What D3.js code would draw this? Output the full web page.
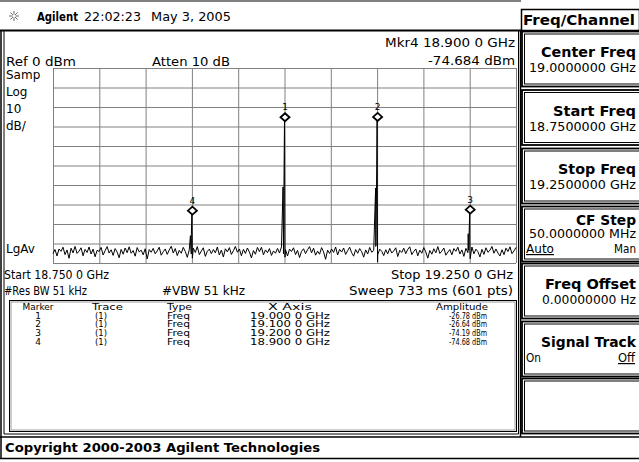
<!DOCTYPE html>
<html><head><meta charset="utf-8">
<script src="https://cdn.jsdelivr.net/npm/d3@7"></script>
<style>
body{margin:0;background:#fff}
svg{display:block;background:#fff}
text{font-family:"DejaVu Sans",sans-serif;fill:#000}
</style>
</head><body>
<svg id="c" width="639" height="462"></svg>
<script>
// ---------------- data ----------------
const startFreq = 18.75, stopFreq = 19.25;   // GHz
const refLevel = 0, bottomLevel = -100;     // dBm, 10 dB/div
const xGridTicks = [18.75,18.80,18.85,18.90,18.95,19.00,19.05,19.10,19.15,19.20,19.25];
const yGridTicks = [0,-10,-20,-30,-40,-50,-60,-70,-80,-90,-100];

// noise floor trace (evenly spaced across the sweep)
const noiseDbm = [
-95.2,-93.1,-96.4,-92.8,-94.0,-91.9,-95.7,-93.3,-97.6,-92.4,-94.8,-91.5,-95.1,-93.9,-92.2,-96.3,-93.0,-94.6,-91.8,-95.4,-92.9,-96.8,-93.5,-94.1,-92.0,-95.9,-93.7,-91.6,-94.9,
-93.2,-96.1,-92.6,-94.4,-97.3,-93.0,-95.5,-92.3,-94.7,-91.7,-95.0,-93.6,-96.5,-92.1,-94.3,-93.4,-95.8,-92.7,-97.9,-93.1,-94.5,-92.5,-95.3,-93.8,-91.9,-96.0,-94.2,-92.8,-95.6,
-93.3,-91.4,-94.9,-92.6,-96.2,-93.5,-95.0,-92.0,-94.1,-97.1,-93.2,-95.4,-92.4,-94.6,-91.6,-95.7,-93.9,-92.2,-96.6,-94.0,-92.9,-95.2,-93.1,-94.8,-91.8,-95.9,-93.4,-96.9,-92.7,
-94.3,-92.1,-95.6,-93.7,-91.5,-94.5,-92.8,-96.3,-93.0,-95.1,-92.3,-94.4,-97.4,-93.6,-95.5,-92.0,-94.2,-91.9,-95.8,-93.3,-94.7,-92.6,-96.1,-93.8,-95.0,-92.5,-94.9,-91.7,-95.3,
-93.1,-96.4,-92.9,-94.1,-92.2,-95.7,-93.5,-97.2,-94.0,-92.7,-95.2,-93.2,-91.6,-94.8,-92.4,-96.0,-93.9,-95.5,-92.1,-94.3,-98.1,-93.4,-95.1,-92.8,-94.6,-91.8,-95.9,-93.0,-94.4,
-92.3,-95.6,-93.7,-91.9,-94.7,-96.5,-93.1,-95.0,-92.6,-94.2,-97.0,-93.3,-95.4,-92.0,-94.5,-93.6,-91.5,-95.8,-92.9,-94.0,-96.2,-93.2,-95.3,-92.5,-94.9,-93.8,-92.2,-96.7,-93.5,
-94.6,-92.4,-95.2,-93.0,-91.7,-95.7,-94.1,-92.8,-96.3,-93.4,-95.0,-92.1,-94.3,-97.5,-93.6,-95.5,-92.7,-94.8,-91.6,-95.1,-93.9,-92.3,-96.0,-94.4,-93.1,-95.8,-92.6,-94.0,-91.9,
-95.4,-93.3,-96.6,-92.5,-94.7,-93.7,-91.8,-95.3,-92.9,-94.2,-96.9,-93.0,-95.6,-92.2,-94.5,-93.5,-91.5,-95.0,-92.8,-94.9,-96.4,-93.2,-95.7,-92.4,-94.1,-91.7,-95.2,-93.8,-92.0
];

// carrier spikes in the sampled trace (shoulder samples, peak sample, dip sample)
const spikeFreqs = [
  18.89840,18.89890,18.89940,18.90000,18.90050,
  18.99840,18.99890,18.99940,19.00000,19.00050,
  19.09840,19.09890,19.09940,19.10000,19.10050,
  19.19840,19.19890,19.19940,19.20000,19.20050
];
const spikeDbm = [
  -86.0,-93.0,-85.5,-74.68,-97.5,
  -61.0,-90.0,-60.2,-26.78,-97.0,
  -61.5,-91.0,-60.5,-26.64,-99.5,
  -85.0,-93.5,-84.3,-74.19,-97.8
];

// markers
const markerIds   = [1,2,3,4];
const markerTrace = ["(1)","(1)","(1)","(1)"];
const markerType  = ["Freq","Freq","Freq","Freq"];
const markerFreqs = [19.000,19.100,19.200,18.900];
const markerAmps  = [-26.78,-26.64,-74.19,-74.68];
const markerFreqLabels = ["19.000 0 GHz","19.100 0 GHz","19.200 0 GHz","18.900 0 GHz"];
const markerAmpLabels  = ["-26.78 dBm","-26.64 dBm","-74.19 dBm","-74.68 dBm"];

// soft keys
const softTitles = ["Center Freq","Start Freq","Stop Freq","CF Step","Freq Offset","Signal Track",""];
const softValues = ["19.0000000 GHz","18.7500000 GHz","19.2500000 GHz","50.0000000 MHz","0.00000000  Hz","",""];

// ---------------- drawing ----------------
const svg = d3.select("#c");

function txt(x, y, s, size, o = {}) {
  const t = svg.append("text").attr("x", x).attr("y", y).text(s)
    .attr("font-size", size)
    .attr("text-anchor", o.anchor || "start");
  if (o.bold) t.attr("font-weight", "bold");
  if (o.len) t.attr("textLength", o.len).attr("lengthAdjust", "spacingAndGlyphs");
  if (o.underline) t.attr("text-decoration", "underline");
  return t;
}
function line(x1, y1, x2, y2, w = 1, c = "#000") {
  svg.append("line").attr("x1", x1).attr("y1", y1).attr("x2", x2).attr("y2", y2)
    .attr("stroke", c).attr("stroke-width", w);
}
function rect(x, y, w, h, sw = 1, c = "#000") {
  svg.append("rect").attr("x", x).attr("y", y).attr("width", w).attr("height", h)
    .attr("fill", "none").attr("stroke", c).attr("stroke-width", sw);
}

// ---- header line ----
line(0, 1, 521, 1, 1);
const icon = svg.append("g").attr("transform", "translate(14,16)");
for (let a = 0; a < 8; a++) {
  const ang = a * Math.PI / 4;
  icon.append("line").attr("x1", Math.cos(ang) * 1.5).attr("y1", Math.sin(ang) * 1.5)
    .attr("x2", Math.cos(ang) * 5).attr("y2", Math.sin(ang) * 5)
    .attr("stroke", "#666").attr("stroke-width", 1);
}
txt(37, 21, "Agilent", 12.5, {bold: true, len: 41});
txt(84, 21, "22:02:23", 13, {len: 57});
txt(151, 21, "May 3, 2005", 13, {len: 80});

// ---- Freq/Channel header box ----
rect(521.5, 9.5, 118, 21, 1.5);
txt(523, 25, "Freq/Channel", 14.5, {bold: true, len: 112});

// ---- main display frame ----
line(0, 30.5, 521, 30.5, 2);
line(1, 30, 1, 437, 1.5);
line(4, 30, 4, 434, 1);
line(518.5, 30, 518.5, 434, 1);
line(520.5, 30, 520.5, 437, 1.5);
line(4, 434, 518.5, 434, 1);

// ---- plot ----
const x = d3.scaleLinear().domain([startFreq, stopFreq]).range([53, 516]);
const y = d3.scaleLinear().domain([refLevel, bottomLevel]).range([68, 263]);

const gx = svg.append("g").attr("transform", `translate(0,${y(bottomLevel)})`)
  .call(d3.axisBottom(x).tickValues(xGridTicks).tickSize(-(y(bottomLevel) - y(refLevel))).tickFormat(""));
const gy = svg.append("g").attr("transform", `translate(${x(startFreq)},0)`)
  .call(d3.axisLeft(y).tickValues(yGridTicks).tickSize(-(x(stopFreq) - x(startFreq))).tickFormat(""));
[gx, gy].forEach(g => {
  g.select(".domain").remove();
  g.selectAll(".tick line").attr("stroke", "#808080").attr("stroke-width", 1);
});

// trace
const tracePts = noiseDbm.map((v, i) => ({f: startFreq + i * (stopFreq - startFreq) / (noiseDbm.length - 1), v}))
  .concat(spikeFreqs.map((f, i) => ({f, v: spikeDbm[i]})))
  .sort((a, b) => a.f - b.f);
svg.append("path").datum(tracePts)
  .attr("d", d3.line().x(d => x(d.f)).y(d => Math.min(y(d.v), y(bottomLevel) + 0.5)))
  .attr("fill", "none").attr("stroke", "#000").attr("stroke-width", 1);

// markers
const mk = svg.append("g").selectAll("g").data(markerIds).join("g")
  .attr("transform", (d, i) => `translate(${x(markerFreqs[i]) + 0.5},${y(markerAmps[i]) - 3})`);
mk.append("path").attr("d", "M0,-4L4.5,0L0,4L-4.5,0Z")
  .attr("fill", "#fff").attr("stroke", "#000").attr("stroke-width", 1.8);
mk.append("text").attr("y", -7).attr("text-anchor", "middle").attr("font-size", 9).text(d => d);

// ---- annotation texts ----
txt(6, 66, "Ref 0 dBm", 13, {len: 70});
txt(152, 66, "Atten 10 dB", 13, {len: 78});
txt(515, 47, "Mkr4  18.900 0 GHz", 13, {anchor: "end", len: 130});
txt(515, 65, "-74.684 dBm", 13, {anchor: "end", len: 87});
txt(6, 79, "Samp", 12);
txt(6, 96, "Log", 12);
txt(6, 113, "10", 12);
txt(6, 130, "dB/", 12);
txt(6, 253, "LgAv", 12);
txt(4, 279, "Start 18.750 0 GHz", 12, {len: 105});
txt(513, 279, "Stop 19.250 0 GHz", 12, {anchor: "end", len: 122});
txt(4, 295, "#Res BW 51 kHz", 12, {len: 83});
txt(162, 295, "#VBW 51 kHz", 12, {len: 83});
txt(513, 295, "Sweep 733 ms (601 pts)", 12, {anchor: "end", len: 164});

// ---- marker table ----
rect(9.5, 300.5, 507, 131, 1, "#000");
rect(11, 302, 504, 128, 1, "#9a9a9a");
const hdrY = 309.5;
txt(38, hdrY, "Marker", 9, {anchor: "middle", len: 31});
txt(92, hdrY, "Trace", 9, {len: 31});
txt(167, hdrY, "Type", 9, {len: 25});
txt(290, hdrY, "X Axis", 9, {anchor: "middle", len: 44});
txt(488, hdrY, "Amplitude", 9, {anchor: "end", len: 52});
const rowY = [318.5, 327.3, 336.1, 344.9];
markerIds.forEach((m, i) => {
  txt(38, rowY[i], String(m), 9, {anchor: "middle"});
  txt(95, rowY[i], markerTrace[i], 9, {len: 12});
  txt(167, rowY[i], markerType[i], 9, {len: 23});
  txt(250, rowY[i], markerFreqLabels[i], 9, {len: 80});
  txt(487, rowY[i], markerAmpLabels[i], 9, {anchor: "end", len: 38});
});

// ---- soft keys ----
const softTops = [31.5, 90, 148.5, 206.5, 263.5, 321.5, 378.5];
softTops.forEach((t, i) => {
  rect(522, t, 118, 55, 1.8);
  rect(524.5, t + 2.5, 116, 50, 1);
});
const titleLen = [95, 83, 78, 60, 91, 95];
const valueLen = [107, 107, 107, 107, 94];
softTitles.forEach((s, i) => {
  if (!s) return;
  const t = softTops[i];
  const ty = i === 3 ? t + 18.5 : t + 25.5;
  txt(636, ty, s, 14.5, {bold: true, anchor: "end", len: titleLen[i]});
  if (softValues[i]) {
    const vy = i === 3 ? t + 31.5 : t + 40.5;
    txt(636, vy, softValues[i], 12, {anchor: "end", len: valueLen[i]});
  }
});
txt(526, softTops[3] + 46.5, "Auto", 12, {underline: true, len: 28});
txt(636, softTops[3] + 46.5, "Man", 12, {anchor: "end", len: 22});
txt(526, softTops[5] + 40.5, "On", 12, {len: 15});
txt(635, softTops[5] + 40.5, "Off", 12, {anchor: "end", underline: true, len: 17});

// ---- copyright bar ----
line(0, 437, 639, 437, 1.5);
line(0, 458.5, 639, 458.5, 1.5);
line(1, 437, 1, 459, 1.5);
txt(5, 452, "Copyright 2000-2003 Agilent Technologies", 13, {bold: true, len: 315});
</script>
</body></html>
